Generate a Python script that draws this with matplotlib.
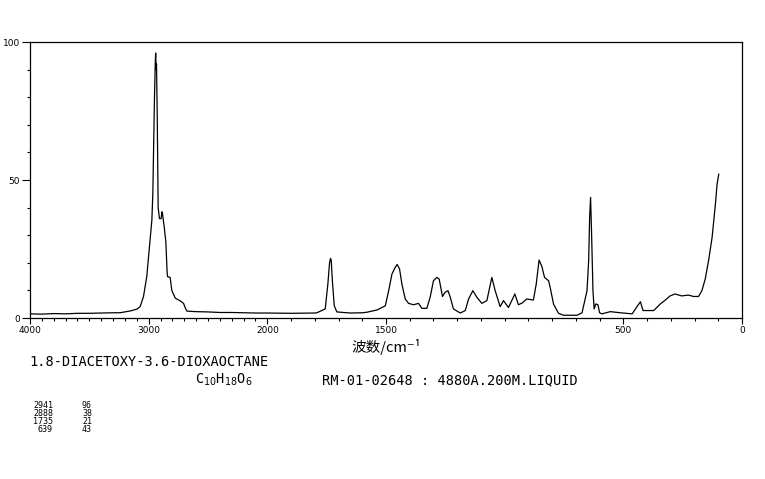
import numpy as np
import matplotlib
matplotlib.use("Agg")
import matplotlib.pyplot as plt
from matplotlib.ticker import FixedLocator, FixedFormatter

# ---------------- data ----------------
wavenumber = [4000, 3900, 3800, 3700, 3600, 3500, 3400, 3300, 3241, 3200, 3150, 3100,
              3072, 3044, 3016, 2996, 2973, 2965, 2959, 2951, 2944, 2941, 2937, 2934,
              2928, 2920, 2909, 2895, 2888, 2884, 2869, 2855, 2845, 2841, 2819, 2805,
              2776, 2734, 2706, 2690, 2678, 2600, 2500, 2400, 2300, 2200, 2100, 2000,
              1900, 1800, 1791, 1756, 1745, 1738, 1734, 1731, 1725, 1718, 1707, 1650,
              1600, 1580, 1538, 1503, 1489, 1475, 1461, 1453, 1443, 1433, 1419, 1405,
              1384, 1363, 1349, 1328, 1314, 1300, 1286, 1276, 1262, 1251, 1239, 1229,
              1216, 1187, 1166, 1152, 1134, 1117, 1096, 1075, 1054, 1040, 1019, 1005,
              984, 957, 942, 925, 907, 879, 867, 855, 843, 832, 815, 808, 794, 773, 752,
              695, 674, 653, 646, 642, 638, 634, 628, 623, 616, 607, 600, 590, 555, 513,
              463, 442, 428, 417, 393, 372, 344, 323, 303, 282, 254, 226, 204, 183, 169,
              155, 141, 126, 112, 105, 98]
intensity = [1.5, 1.4, 1.6, 1.5, 1.7, 1.7, 1.8, 1.9, 1.9, 2.2, 2.6, 3.2,
             4.1, 7.7, 15, 24.6, 35.5, 45, 60, 80, 93, 96, 90, 92,
             74, 40, 36, 36, 38.5, 38, 33, 27.5, 17, 15, 14.7, 10,
             7.2, 6.2, 5.3, 3.5, 2.5, 2.3, 2.2, 2.0, 2.0, 1.9, 1.8, 1.8,
             1.7, 1.8, 1.9, 3.3, 12.3, 19.8, 21.6, 21, 12.3, 4.4, 2.2, 1.8,
             1.9, 2.1, 2.9, 4.4, 9.8, 15.9, 18.4, 19.4, 17.8, 12.3, 6.9, 5.3,
             4.8, 5.3, 3.5, 3.5, 7.5, 13.5, 14.7, 14.1, 7.8, 9.3, 9.9, 7.5,
             3.3, 1.8, 2.7, 6.9, 9.9, 7.5, 5.3, 6.3, 14.7, 9.9, 4.1, 6.3,
             3.8, 8.7, 4.8, 5.5, 6.9, 6.5, 12.3, 21, 18.6, 14.7, 13.5, 11, 5, 1.7, 1.0,
             1.0, 1.9, 9.9, 21, 36.5, 43.7, 31.4, 9.9, 3.3, 5.1, 4.8, 1.9, 1.5, 2.3, 1.9,
             1.5, 4.1, 5.9, 2.7, 2.7, 2.7, 5.1, 6.5, 8.0, 8.7, 8.0, 8.3, 7.8, 7.8, 9.9,
             14.1, 20.7, 29.2, 41.3, 48.5, 52.1]

x_major = [4000, 3000, 2000, 1500, 500, 0]
x_major_labels = ["4000", "3000", "2000", "1500", "500", "0"]
y_major = [0, 50, 100]
y_major_labels = ["0", "50", "100"]

title_name = "1.8-DIACETOXY-3.6-DIOXAOCTANE"
formula = r"C$_{10}$H$_{18}$O$_6$"
record = "RM-01-02648 : 4880A.200M.LIQUID"
peak_wn = ["2941", "2888", "1735", "639"]
peak_int = ["96", "38", "21", "43"]

# -------------- piecewise scale (0-2000 twice as wide) --------------
def fwd(w):
    w = np.asarray(w, dtype=float)
    return np.where(w <= 2000, w, 2000 + (w - 2000) / 2.0)

def inv(u):
    u = np.asarray(u, dtype=float)
    return np.where(u <= 2000, u, 2000 + (u - 2000) * 2.0)

fig = plt.figure(figsize=(7.65, 4.79), dpi=100)
ax = fig.add_axes([30 / 765, 1 - 318 / 479, 712 / 765, 276 / 479])
ax.set_xscale("function", functions=(fwd, inv))
ax.plot(wavenumber, intensity, color="black", lw=0.9)
ax.set_xlim(4000, 0)
ax.set_ylim(0, 100)

ax.xaxis.set_major_locator(FixedLocator(x_major))
ax.xaxis.set_major_formatter(FixedFormatter(x_major_labels))
ax.xaxis.set_minor_locator(FixedLocator(list(range(0, 4001, 100))))
ax.yaxis.set_major_locator(FixedLocator(y_major))
ax.yaxis.set_major_formatter(FixedFormatter(y_major_labels))
ax.yaxis.set_minor_locator(FixedLocator(list(range(0, 101, 10))))

ax.tick_params(axis="x", which="major", length=4, width=0.8, labelsize=6.5, pad=1.5)
ax.tick_params(axis="x", which="minor", length=2, width=0.8)
ax.tick_params(axis="y", which="major", length=6, width=0.8, labelsize=6.5, pad=1)
ax.tick_params(axis="y", which="minor", length=2, width=0.8)
for s in ax.spines.values():
    s.set_linewidth(0.9)

cjk = ["Noto Sans CJK SC", "DejaVu Sans"]
fig.text(386 / 765, 1 - 347 / 479, "波数/cm⁻¹", family=cjk, fontsize=10.5,
         ha="center", va="center")

mono = "DejaVu Sans Mono"
fig.text(29 / 765, 1 - 362.5 / 479, title_name, family=mono, fontsize=9.8,
         ha="left", va="center")
fig.text(195 / 765, 1 - 380 / 479, formula, family=mono, fontsize=9.8,
         ha="left", va="center")
fig.text(322 / 765, 1 - 380 / 479, record, family=mono, fontsize=9.8,
         ha="left", va="center")

row_y = [405, 413, 421, 429]
for wn, it, yy in zip(peak_wn, peak_int, row_y):
    fig.text(53 / 765, 1 - yy / 479, wn, family=mono, fontsize=6, ha="right", va="center")
    fig.text(82 / 765, 1 - yy / 479, it, family=mono, fontsize=6, ha="left", va="center")

fig.savefig("out.png", dpi=100)
